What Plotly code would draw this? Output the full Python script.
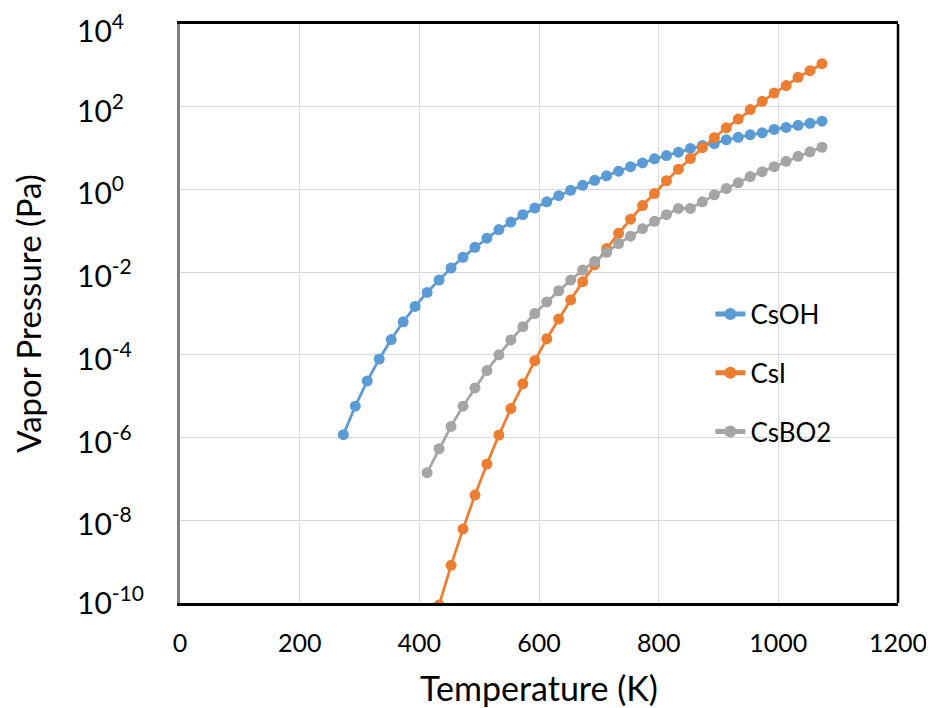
import plotly.graph_objects as go

# ---- data ----
csoh_T = [273, 293, 313, 333, 353, 373, 393, 413, 433, 453, 473, 493, 513, 533, 553, 573,
          593, 613, 633, 653, 673, 693, 713, 733, 753, 773, 793, 813, 833, 853, 873, 893,
          913, 933, 953, 973, 993, 1013, 1033, 1053, 1073]
csoh_logP = [-5.93, -5.24, -4.63, -4.10, -3.63, -3.20, -2.83, -2.49, -2.19, -1.90, -1.64,
             -1.40, -1.18, -0.97, -0.79, -0.61, -0.45, -0.30, -0.15, -0.02, 0.10, 0.22,
             0.33, 0.44, 0.55, 0.64, 0.74, 0.82, 0.90, 0.99, 1.06, 1.11, 1.20, 1.26, 1.32,
             1.37, 1.45, 1.50, 1.55, 1.60, 1.65]

csi_T = [433, 453, 473, 493, 513, 533, 553, 573, 593, 613, 633, 653, 673, 693, 713, 733,
         753, 773, 793, 813, 833, 853, 873, 893, 913, 933, 953, 973, 993, 1013, 1033, 1053, 1073]
csi_logP = [-10.05, -9.09, -8.21, -7.39, -6.64, -5.94, -5.30, -4.70, -4.14, -3.61, -3.13,
            -2.67, -2.23, -1.82, -1.43, -1.06, -0.72, -0.39, -0.10, 0.21, 0.49, 0.75, 1.01,
            1.25, 1.49, 1.70, 1.93, 2.13, 2.33, 2.51, 2.71, 2.87, 3.04]

csbo2_T = [413, 433, 453, 473, 493, 513, 533, 553, 573, 593, 613, 633, 653, 673, 693, 713,
           733, 753, 773, 793, 813, 833, 853, 873, 893, 913, 933, 953, 973, 993, 1013, 1033,
           1053, 1073]
csbo2_logP = [-6.85, -6.27, -5.73, -5.24, -4.80, -4.38, -4.00, -3.64, -3.32, -3.00, -2.72,
              -2.45, -2.19, -1.95, -1.74, -1.52, -1.31, -1.13, -0.95, -0.77, -0.61, -0.46,
              -0.46, -0.30, -0.13, 0.02, 0.16, 0.31, 0.43, 0.55, 0.68, 0.80, 0.91, 1.02]

series_names = ["CsOH", "CsI", "CsBO2"]
series_colors = ["#5B9BD5", "#ED7D31", "#A5A5A5"]

y_tick_exps = [4, 2, 0, -2, -4, -6, -8, -10]
x_ticks = [0, 200, 400, 600, 800, 1000, 1200]

FONT = "Lato, 'Open Sans', sans-serif"

fig = go.Figure()
for name, color, T, lp in zip(series_names, series_colors,
                              [csoh_T, csi_T, csbo2_T],
                              [csoh_logP, csi_logP, csbo2_logP]):
    fig.add_trace(go.Scatter(
        x=T, y=[10 ** v for v in lp], name=name, mode="lines+markers",
        line=dict(color=color, width=2.75),
        marker=dict(color=color, size=11),
        legendgroup=name, cliponaxis=True,
    ))

# y tick labels as left-aligned annotations (as in the reference)
label_shift = {y_tick_exps[0]: -4, y_tick_exps[-1]: 3}
for e in y_tick_exps:
    fig.add_annotation(
        x=-0.1462, xref="paper", xanchor="left",
        y=e, yref="y", yanchor="middle", yshift=label_shift.get(e, -1),
        text=f"10<sup>{e}</sup>", showarrow=False,
        font=dict(family=FONT, size=30, color="black"),
    )

# right border of the plot frame
fig.add_shape(type="line", xref="x domain", yref="y domain",
              x0=1, x1=1, y0=0, y1=1, line=dict(color="black", width=2.5), layer="above")

# the page body adds an 8px offset, so the figure is sized 926x700
fig.update_layout(
    width=926, height=700,
    margin=dict(l=172, r=36, t=16, b=105, autoexpand=False),
    paper_bgcolor="white", plot_bgcolor="white",
    font=dict(family=FONT, size=25, color="black"),
    showlegend=True,
    legend=dict(x=0.7387, y=0.5396, xanchor="left", yanchor="top",
                bgcolor="rgba(0,0,0,0)", font=dict(size=26, family=FONT),
                tracegroupgap=22, itemsizing="constant"),
    xaxis=dict(
        range=[0, 1200], tickvals=x_ticks, ticktext=[str(v) for v in x_ticks],
        showgrid=True, gridcolor="#d9d9d9", gridwidth=1,
        showline=True, linecolor="black", linewidth=2.5, mirror=True,
        ticks="outside", ticklen=0, ticklabelstandoff=16,
        tickfont=dict(size=25, family=FONT), automargin=False,
        title=dict(text="Temperature (K)", font=dict(size=34, family=FONT), standoff=34),
        zeroline=False,
    ),
    yaxis=dict(
        type="log", range=[-10, 4],
        tickvals=[10 ** e for e in y_tick_exps], showticklabels=False,
        showgrid=True, gridcolor="#d9d9d9", gridwidth=1,
        showline=True, linecolor="#808080", linewidth=2.5,
        ticks="", zeroline=False, automargin=False,
        title=dict(text="Vapor Pressure (Pa)", font=dict(size=33, family=FONT), standoff=129),
    ),
)

fig.write_html("out.html")
